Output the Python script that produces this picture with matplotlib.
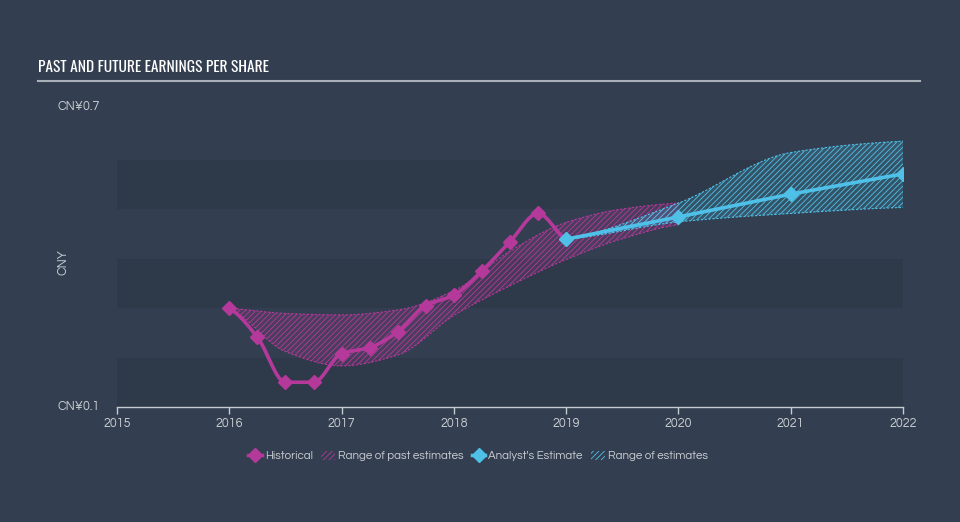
import numpy as np
import matplotlib
matplotlib.use("Agg")
import matplotlib.pyplot as plt
from matplotlib.lines import Line2D
from matplotlib.patches import Patch
from matplotlib import font_manager as fm

# ---------------- data ----------------
hist_x = [2016.0, 2016.25, 2016.5, 2016.75, 2017.0, 2017.25, 2017.5, 2017.75,
          2018.0, 2018.25, 2018.5, 2018.75, 2019.0]
hist_y = [0.299, 0.241, 0.150, 0.150, 0.208, 0.220, 0.252, 0.305,
          0.326, 0.375, 0.434, 0.491, 0.439]

past_x = [2016.0, 2016.5, 2017.0, 2017.5, 2018.0, 2018.5, 2019.0, 2019.5, 2020.0]
past_low = [0.299, 0.212, 0.183, 0.205, 0.285, 0.345, 0.398, 0.440, 0.468]
past_high = [0.299, 0.289, 0.286, 0.296, 0.335, 0.415, 0.473, 0.500, 0.512]

est_x = [2019.0, 2020.0, 2021.0, 2022.0]
est_y = [0.439, 0.484, 0.530, 0.571]
est_low = [0.439, 0.474, 0.491, 0.503]
est_high = [0.439, 0.512, 0.614, 0.637]

x_ticks = [2015, 2016, 2017, 2018, 2019, 2020, 2021, 2022]
y_ticks = [0.1, 0.7]
y_tick_labels = ["CN¥0.1", "CN¥0.7"]

# ---------------- style ----------------
BG = "#333f50"
BAND = "#2e3a4a"
PINK = "#b5399b"
CYAN = "#4fc1e9"
TXT = "#c9cdd2"

available = {f.name for f in fm.fontManager.ttflist}


def pick(prefs):
    for p in prefs:
        if p in available:
            return p
    return "DejaVu Sans"


TITLE_FONT = pick(["Oswald", "League Gothic", "Fjalla One", "Pathway Gothic One",
                   "Roboto Condensed", "IBM Plex Sans Condensed", "Open Sans"])
BODY_FONT = pick(["Questrial", "Didact Gothic", "Mulish", "Muli", "Lato"])


def pchip(x, y, n=30):
    x = np.asarray(x, float)
    y = np.asarray(y, float)
    h = np.diff(x)
    d = np.diff(y) / h
    m = np.zeros_like(y)
    for k in range(1, len(x) - 1):
        if d[k - 1] * d[k] <= 0:
            m[k] = 0
        else:
            w1 = 2 * h[k] + h[k - 1]
            w2 = h[k] + 2 * h[k - 1]
            m[k] = (w1 + w2) / (w1 / d[k - 1] + w2 / d[k])
    m[0] = d[0] * 0.5
    m[-1] = d[-1] * 0.5
    xs, ys = [], []
    for k in range(len(x) - 1):
        t = np.linspace(0, 1, n, endpoint=(k == len(x) - 2))
        h00 = 2 * t**3 - 3 * t**2 + 1
        h10 = t**3 - 2 * t**2 + t
        h01 = -2 * t**3 + 3 * t**2
        h11 = t**3 - t**2
        xs.append(x[k] + t * h[k])
        ys.append(h00 * y[k] + h10 * h[k] * m[k] + h01 * y[k + 1] + h11 * h[k] * m[k + 1])
    return np.concatenate(xs), np.concatenate(ys)


plt.rcParams["hatch.linewidth"] = 0.6
fig = plt.figure(figsize=(9.6, 5.22), dpi=100, facecolor=BG)
ax = fig.add_axes([117 / 960, 1 - 407 / 522, 786 / 960, 297 / 522])
ax.set_facecolor(BG)
ax.set_xlim(2015, 2022)
ax.set_ylim(0.1, 0.7)

# horizontal bands
for lo in [0.1, 0.3, 0.5]:
    ax.axhspan(lo, lo + 0.1, color=BAND, lw=0, zorder=0)

# past estimate range
px, pl = pchip(past_x, past_low)
_, ph = pchip(past_x, past_high)
ax.fill_between(px, pl, ph, facecolor=PINK + "30", edgecolor=PINK, hatch="//////",
                linewidth=0, zorder=2)
ax.plot(px, pl, color=PINK, lw=0.8, ls=(0, (2, 1.5)), zorder=2)
ax.plot(px, ph, color=PINK, lw=0.8, ls=(0, (2, 1.5)), zorder=2)

# future estimate range
ex, el = pchip(est_x, est_low)
_, eh = pchip(est_x, est_high)
ax.fill_between(ex, el, eh, facecolor=CYAN + "30", edgecolor=CYAN, hatch="//////",
                linewidth=0, zorder=2)
ax.plot(ex, el, color=CYAN, lw=0.8, ls=(0, (2, 1.5)), zorder=2)
ax.plot(ex, eh, color=CYAN, lw=0.8, ls=(0, (2, 1.5)), zorder=2)
ax.plot([est_x[-1], est_x[-1]], [est_low[-1], est_high[-1]], color=CYAN, lw=0.8,
        ls=(0, (2, 1.5)), zorder=2)

# historical line
hx, hy = pchip(hist_x, hist_y, n=20)
ax.plot(hx, hy, color=PINK, lw=2.6, zorder=4, solid_capstyle="round")
ax.plot(hist_x, hist_y, ls="none", marker="D", ms=7, color=PINK, zorder=5)

# estimate line
ax.plot(est_x, est_y, color=CYAN, lw=2.6, zorder=6, marker="D", ms=7)

# axes styling
for s in ["top", "right", "left"]:
    ax.spines[s].set_visible(False)
ax.spines["bottom"].set_color("#c6cbd2")
ax.spines["bottom"].set_linewidth(1.0)
ax.set_xticks(x_ticks)
ax.set_xticklabels([str(t) for t in x_ticks], fontsize=9, color=TXT, family=BODY_FONT)
ax.tick_params(axis="x", colors="#c6cbd2", length=5, width=1, pad=2, labelcolor=TXT)
ax.set_yticks([])
fig.text(57 / 960, 1 - 406 / 522, y_tick_labels[0], ha="left", va="center",
         fontsize=9, color=TXT, family=BODY_FONT)
fig.text(57 / 960, 1 - 107 / 522, y_tick_labels[1], ha="left", va="center",
         fontsize=9, color=TXT, family=BODY_FONT)
fig.text(63 / 960, 1 - 262 / 522, "CNY", rotation=90, ha="center", va="center",
         fontsize=9, color=TXT, family=BODY_FONT)

# title and underline
fig.text(38 / 960, 1 - 67 / 522, "PAST AND FUTURE EARNINGS PER SHARE",
         fontsize=11.1, fontweight="bold", color="white",
         family=[TITLE_FONT, "DejaVu Sans"], ha="left", va="center")
fig.add_artist(Line2D([38 / 960, 920 / 960], [1 - 81 / 522, 1 - 81 / 522],
                      color="#aab0b8", lw=1.5, transform=fig.transFigure))

# legend
handles = [
    Line2D([0], [0], color=PINK, lw=2.5, marker="D", ms=7),
    Patch(facecolor="none", edgecolor=PINK, hatch="//////", lw=0),
    Line2D([0], [0], color=CYAN, lw=2.5, marker="D", ms=7),
    Patch(facecolor="none", edgecolor=CYAN, hatch="//////", lw=0),
]
labels = ["Historical", "Range of past estimates", "Analyst's Estimate", "Range of estimates"]
fig.legend(handles, labels, loc="center", bbox_to_anchor=(478 / 960, 1 - 456 / 522),
           ncol=4, frameon=False, labelcolor=TXT, handlelength=1.2, handleheight=0.8,
           handletextpad=0.25, columnspacing=0.7, prop={"family": BODY_FONT, "size": 8.3})

fig.savefig("out.png", dpi=100, facecolor=BG)
